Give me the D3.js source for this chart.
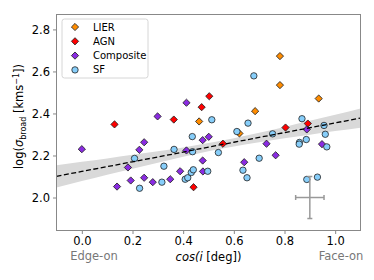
<!DOCTYPE html>
<html>
<head>
<meta charset="utf-8">
<script src="https://cdn.jsdelivr.net/npm/d3@7"></script>
<style>
  body { margin: 0; background: #fff; }
  svg { font-family: "DejaVu Sans", sans-serif; }
</style>
</head>
<body>
<div id="chart"></div>
<script>
// cos(i) and log(sigma_broad) per class
const lierX = [0.463, 0.622, 0.684, 0.782, 0.782, 0.935]
const lierY = [2.362, 2.305, 2.411, 2.673, 2.535, 2.471]

const agnX = [0.129, 0.363, 0.473, 0.503, 0.441, 0.557, 0.804, 0.892]
const agnY = [2.348, 2.371, 2.430, 2.482, 2.049, 2.256, 2.333, 2.352]

const compX = [0.0, 0.139, 0.182, 0.193, 0.227, 0.246, 0.246, 0.280, 0.299, 0.349, 0.388,
  0.413, 0.413, 0.477, 0.501, 0.477, 0.478, 0.641, 0.729, 0.765, 0.888, 0.948]
const compY = [2.230, 2.052, 2.143, 2.081, 2.227, 2.263, 2.094, 2.073, 2.386, 2.087, 2.125,
  2.451, 2.224, 2.273, 2.289, 2.176, 2.124, 2.168, 2.256, 2.201, 2.324, 2.254]

const sfX = [0.208, 0.228, 0.316, 0.324, 0.364, 0.408, 0.418, 0.432, 0.440, 0.436, 0.437,
  0.497, 0.513, 0.539, 0.612, 0.636, 0.652, 0.656, 0.679, 0.700, 0.753, 0.859, 0.858,
  0.869, 0.886, 0.956, 0.961, 0.967, 0.888, 0.930]
const sfY = [2.186, 2.044, 2.073, 2.149, 2.229, 2.087, 2.094, 2.119, 2.132, 2.290, 2.218,
  2.125, 2.370, 2.214, 2.314, 2.130, 2.094, 2.354, 2.579, 2.187, 2.303, 2.262, 2.254,
  2.375, 2.276, 2.343, 2.301, 2.241, 2.086, 2.097]

// fit line and its confidence band, read at the sample points
const fitX = [-0.1, 0.0, 0.1, 0.2, 0.3, 0.4, 0.5, 0.6, 0.7, 0.8, 0.9, 1.0, 1.1]
const fitY = [2.101, 2.124, 2.147, 2.170, 2.193, 2.216, 2.240, 2.263, 2.286, 2.309, 2.332, 2.355, 2.378]
const bandLo = [2.048, 2.078, 2.108, 2.137, 2.166, 2.194, 2.220, 2.243, 2.263, 2.282, 2.299, 2.316, 2.332]
const bandHi = [2.154, 2.170, 2.186, 2.203, 2.220, 2.238, 2.259, 2.282, 2.308, 2.336, 2.365, 2.394, 2.424]

// typical error bar
const errPoint = { x: 0.9, y: 2.0, xerr: 0.056, yerr: 0.1 }

const xTicks = [0.0, 0.2, 0.4, 0.6, 0.8, 1.0]
const yTicks = [2.0, 2.2, 2.4, 2.6, 2.8]

const classes = [
  { name: "LIER", xs: lierX, ys: lierY, color: "darkorange", shape: "diamond" },
  { name: "AGN", xs: agnX, ys: agnY, color: "red", shape: "diamond" },
  { name: "Composite", xs: compX, ys: compY, color: "blueviolet", shape: "diamond" },
  { name: "SF", xs: sfX, ys: sfY, color: "lightskyblue", shape: "circle" },
]

const W = 374, H = 280
const margin = { top: 14.5, right: 13.5, bottom: 49.5, left: 56.5 }
const width = W - margin.left - margin.right
const height = H - margin.top - margin.bottom

const svg = d3.select("#chart").append("svg").attr("width", W).attr("height", H)
const g = svg.append("g").attr("transform", `translate(${margin.left},${margin.top})`)

const x = d3.scaleLinear().domain([-0.1, 1.1]).range([0, width])
const y = d3.scaleLinear().domain([1.843, 2.871]).range([height, 0])

const diamond = d3.symbol().type(d3.symbolSquare).size(26)

const drawMarker = (sel, cls) => {
  if (cls.shape == "circle") {
    return sel.append("circle").attr("r", 3.2)
      .attr("fill", cls.color).attr("stroke", "#222").attr("stroke-width", 0.8)
  }
  return sel.append("path").attr("d", diamond())
    .attr("transform", "rotate(45)")
    .attr("fill", cls.color).attr("stroke", "#222").attr("stroke-width", 0.8)
}

// band
const band = fitX.map((v, i) => ({ x: v, lo: bandLo[i], hi: bandHi[i] }))
g.append("path")
  .datum(band)
  .attr("fill", "#d9d9d9")
  .attr("d", d3.area().x((d) => x(d.x)).y0((d) => y(d.lo)).y1((d) => y(d.hi)).curve(d3.curveNatural))

// points
classes.forEach((cls) => {
  const pts = cls.xs.map((v, i) => ({ x: v, y: cls.ys[i] }))
  pts.forEach((p) => {
    const m = g.append("g").attr("transform", `translate(${x(p.x)},${y(p.y)})`)
    drawMarker(m, cls)
  })
})

// fit line
g.append("path")
  .datum(fitX.map((v, i) => ({ x: v, y: fitY[i] })))
  .attr("fill", "none")
  .attr("stroke", "#000")
  .attr("stroke-width", 1.3)
  .attr("stroke-dasharray", "5,2.5")
  .attr("d", d3.line().x((d) => x(d.x)).y((d) => y(d.y)))

// error bar
const eb = g.append("g").attr("stroke", "#999").attr("stroke-width", 1.5).attr("fill", "none")
const ex = x(errPoint.x), ey = y(errPoint.y)
const ex0 = x(errPoint.x - errPoint.xerr), ex1 = x(errPoint.x + errPoint.xerr)
const ey0 = y(errPoint.y - errPoint.yerr), ey1 = y(errPoint.y + errPoint.yerr)
eb.append("line").attr("x1", ex0).attr("x2", ex1).attr("y1", ey).attr("y2", ey)
eb.append("line").attr("x1", ex).attr("x2", ex).attr("y1", ey0).attr("y2", ey1)
eb.append("line").attr("x1", ex0).attr("x2", ex0).attr("y1", ey - 2.5).attr("y2", ey + 2.5)
eb.append("line").attr("x1", ex1).attr("x2", ex1).attr("y1", ey - 2.5).attr("y2", ey + 2.5)
eb.append("line").attr("x1", ex - 2.5).attr("x2", ex + 2.5).attr("y1", ey0).attr("y2", ey0)
eb.append("line").attr("x1", ex - 2.5).attr("x2", ex + 2.5).attr("y1", ey1).attr("y2", ey1)

// axes
const xAxis = g.append("g")
  .attr("transform", `translate(0,${height})`)
  .call(d3.axisBottom(x).tickValues(xTicks).tickFormat(d3.format(".1f")).tickSize(3.5).tickPadding(3).tickSizeOuter(0))
const yAxis = g.append("g")
  .call(d3.axisLeft(y).tickValues(yTicks).tickFormat(d3.format(".1f")).tickSize(3.5).tickPadding(3).tickSizeOuter(0))

;[xAxis, yAxis].forEach((a) => {
  a.select(".domain").remove()
  a.selectAll(".tick line").attr("stroke", "#888")
  a.selectAll(".tick text").attr("fill", "#000").style("font-size", "11.5px").style("font-family", "DejaVu Sans")
})

// frame
g.append("rect")
  .attr("width", width).attr("height", height)
  .attr("fill", "none").attr("stroke", "#888").attr("stroke-width", 1)

// legend
const leg = g.append("g").attr("transform", "translate(5.5,4.5)")
leg.append("rect")
  .attr("width", 86).attr("height", 59).attr("rx", 2.5)
  .attr("fill", "#fff").attr("fill-opacity", 0.8)
  .attr("stroke", "#ccc").attr("stroke-width", 0.8)
classes.forEach((cls, i) => {
  const row = leg.append("g").attr("transform", `translate(13,${8 + i * 14.3})`)
  drawMarker(row, cls)
  row.append("text").attr("x", 18).attr("y", 0).attr("dy", "0.35em")
    .style("font-size", "10px").text(cls.name)
})

// axis labels
svg.append("text")
  .attr("x", margin.left + width / 2).attr("y", 261)
  .attr("text-anchor", "middle").style("font-size", "11.5px")
  .call((t) => {
    t.append("tspan").style("font-style", "italic").text("cos(i")
    t.append("tspan").text(" [deg])")
  })

svg.append("text")
  .attr("x", 94).attr("y", 260)
  .attr("text-anchor", "middle").attr("fill", "#777").style("font-size", "11.5px")
  .text("Edge-on")
svg.append("text")
  .attr("x", 341).attr("y", 260)
  .attr("text-anchor", "middle").attr("fill", "#777").style("font-size", "11.5px")
  .text("Face-on")

const yl = svg.append("text")
  .attr("transform", `translate(23,${margin.top + height / 2 - 6}) rotate(-90)`)
  .attr("text-anchor", "middle").style("font-size", "11.5px")
yl.append("tspan").text("log(")
yl.append("tspan").style("font-style", "italic").text("σ")
yl.append("tspan").attr("dy", 2.5).style("font-size", "8px").text("broad")
yl.append("tspan").attr("dy", -2.5).text(" [kms")
yl.append("tspan").attr("dy", -4.5).style("font-size", "8px").text("−1")
yl.append("tspan").attr("dy", 4.5).text("])")
</script>
</body>
</html>
